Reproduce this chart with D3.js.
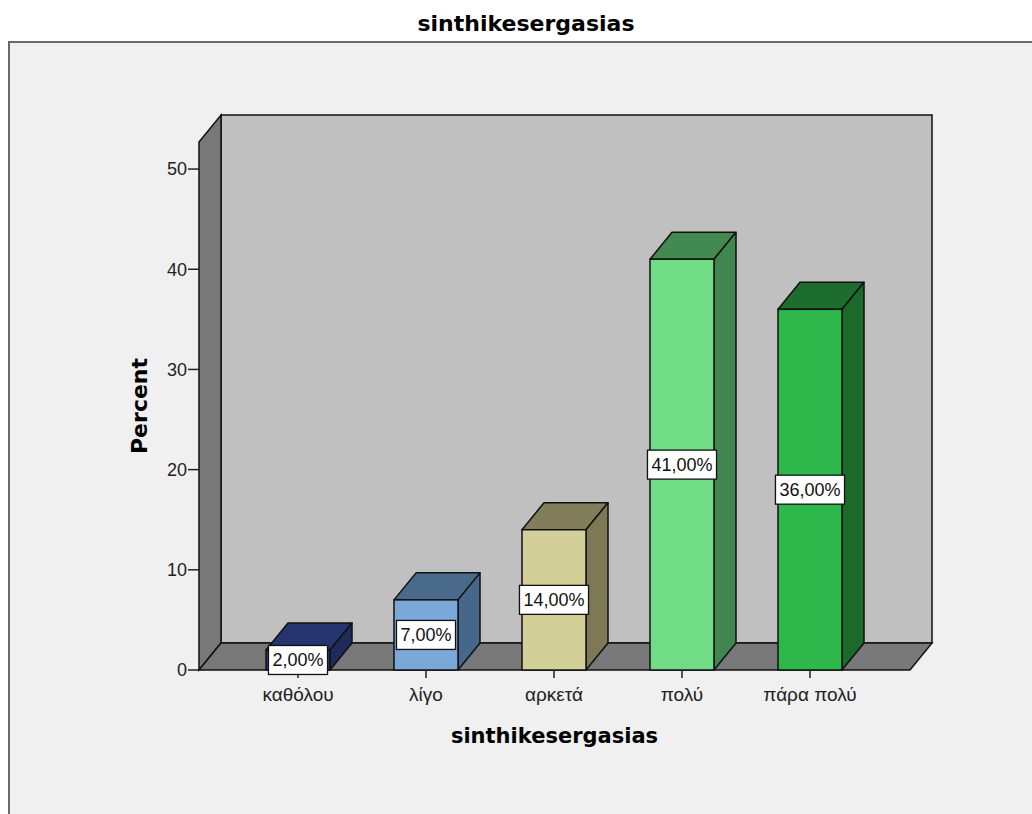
<!DOCTYPE html>
<html>
<head>
<meta charset="utf-8">
<script src="https://cdn.jsdelivr.net/npm/d3@7"></script>
<style>
  body { margin: 0; background: #ffffff; }
  svg { display: block; }
</style>
</head>
<body>
<svg id="chart" width="1032" height="814"></svg>
<script>
// Data
const categories = ["καθόλου", "λίγο", "αρκετά", "πολύ", "πάρα πολύ"];
const percents = [2, 7, 14, 41, 36];
const valueLabels = ["2,00%", "7,00%", "14,00%", "41,00%", "36,00%"];
const yTicks = [0, 10, 20, 30, 40, 50];
const frontColors = ["#2a3a7c", "#7aa8d8", "#d3cf98", "#70dc85", "#2eb84b"];
const topColors = ["#26356f", "#4a6a8c", "#827d5a", "#438a52", "#1d6e2e"];
const sideColors = ["#1f2b5e", "#45678a", "#7e7955", "#40874f", "#1b6a2c"];

const svg = d3.select("#chart");

// 3D depth offset applied to walls, floor and bars
const depthX = 22, depthY = -27;

// Scales
const y = d3.scaleLinear().domain([0, 52.7]).range([670, 142]);
const x = d3.scaleBand()
  .domain(categories)
  .range([234, 874])
  .paddingInner(0.5)
  .paddingOuter(0.25);

const floorLeft = 199, floorRight = 910;
const stroke = "#111";

// Chart frame
svg.append("rect")
  .attr("x", 9).attr("y", 42)
  .attr("width", 1060).attr("height", 800)
  .attr("fill", "#f0f0f0")
  .attr("stroke", "#6a6a6a").attr("stroke-width", 2);

// Title
svg.append("text")
  .attr("x", 526).attr("y", 31)
  .attr("text-anchor", "middle")
  .attr("font-family", "'DejaVu Sans', sans-serif")
  .attr("font-weight", "bold")
  .attr("font-size", 22)
  .attr("fill", "#000")
  .text("sinthikesergasias");

const poly = pts => "M" + pts.map(p => p.join(",")).join("L") + "Z";

const yTop = y.domain()[1];

// Back wall
svg.append("path")
  .attr("d", poly([
    [floorLeft + depthX, y(yTop) + depthY],
    [floorRight + depthX, y(yTop) + depthY],
    [floorRight + depthX, y(0) + depthY],
    [floorLeft + depthX, y(0) + depthY]
  ]))
  .attr("fill", "#c0c0c0").attr("stroke", stroke).attr("stroke-width", 1.5);

// Left wall
svg.append("path")
  .attr("d", poly([
    [floorLeft, y(yTop)],
    [floorLeft + depthX, y(yTop) + depthY],
    [floorLeft + depthX, y(0) + depthY],
    [floorLeft, y(0)]
  ]))
  .attr("fill", "#787878").attr("stroke", stroke).attr("stroke-width", 1.5);

// Floor
svg.append("path")
  .attr("d", poly([
    [floorLeft, y(0)],
    [floorLeft + depthX, y(0) + depthY],
    [floorRight + depthX, y(0) + depthY],
    [floorRight, y(0)]
  ]))
  .attr("fill", "#787878").attr("stroke", stroke).attr("stroke-width", 1.5);

// Y axis ticks and labels
const yAxis = svg.append("g");
yTicks.forEach(t => {
  yAxis.append("line")
    .attr("x1", floorLeft - 11).attr("x2", floorLeft)
    .attr("y1", y(t)).attr("y2", y(t))
    .attr("stroke", "#222").attr("stroke-width", 1.5);
  yAxis.append("text")
    .attr("x", floorLeft - 12).attr("y", y(t))
    .attr("dy", "0.35em")
    .attr("text-anchor", "end")
    .attr("font-family", "'Liberation Sans', Arial, sans-serif")
    .attr("font-size", 18)
    .attr("fill", "#222")
    .text(t);
});

// Bars
const bars = svg.append("g");
categories.forEach((c, i) => {
  const x0 = x(c), x1 = x(c) + x.bandwidth();
  const yt = y(percents[i]), yb = y(0);
  const g = bars.append("g");
  g.append("path")
    .attr("d", poly([[x0, yt], [x0 + depthX, yt + depthY], [x1 + depthX, yt + depthY], [x1, yt]]))
    .attr("fill", topColors[i]).attr("stroke", stroke).attr("stroke-width", 1.5).attr("stroke-linejoin", "round");
  g.append("path")
    .attr("d", poly([[x1, yt], [x1 + depthX, yt + depthY], [x1 + depthX, yb + depthY], [x1, yb]]))
    .attr("fill", sideColors[i]).attr("stroke", stroke).attr("stroke-width", 1.5).attr("stroke-linejoin", "round");
  g.append("rect")
    .attr("x", x0).attr("y", yt)
    .attr("width", x.bandwidth()).attr("height", yb - yt)
    .attr("fill", frontColors[i]).attr("stroke", stroke).attr("stroke-width", 1.5);
});

// X axis ticks and category labels
const xAxis = svg.append("g");
categories.forEach(c => {
  const cx = x(c) + x.bandwidth() / 2;
  xAxis.append("line")
    .attr("x1", cx).attr("x2", cx)
    .attr("y1", y(0)).attr("y2", y(0) + 8)
    .attr("stroke", "#222").attr("stroke-width", 1.5);
  xAxis.append("text")
    .attr("x", cx).attr("y", y(0) + 31)
    .attr("text-anchor", "middle")
    .attr("font-family", "'Liberation Sans', Arial, sans-serif")
    .attr("font-size", 19)
    .attr("fill", "#222")
    .text(c);
});

// Value labels in boxes at mid-height of each bar
const labels = svg.append("g");
categories.forEach((c, i) => {
  const cx = x(c) + x.bandwidth() / 2;
  const cy = (y(percents[i]) + y(0)) / 2;
  const lg = labels.append("g");
  const t = lg.append("text")
    .attr("x", cx).attr("y", cy)
    .attr("dy", "0.36em")
    .attr("text-anchor", "middle")
    .attr("font-family", "'Liberation Sans', Arial, sans-serif")
    .attr("font-size", 18)
    .attr("fill", "#111")
    .text(valueLabels[i]);
  const w = t.node().getComputedTextLength() + 8;
  lg.insert("rect", "text")
    .attr("x", cx - w / 2).attr("y", cy - 14.5)
    .attr("width", w).attr("height", 29)
    .attr("fill", "#fff").attr("stroke", "#111").attr("stroke-width", 1.3);
});

// Axis titles
svg.append("text")
  .attr("transform", `translate(147, ${(y(yTop) + y(0)) / 2}) rotate(-90)`)
  .attr("text-anchor", "middle")
  .attr("font-family", "'DejaVu Sans', sans-serif")
  .attr("font-weight", "bold")
  .attr("font-size", 22)
  .attr("fill", "#000")
  .text("Percent");

svg.append("text")
  .attr("x", (floorLeft + floorRight) / 2).attr("y", 743)
  .attr("text-anchor", "middle")
  .attr("font-family", "'DejaVu Sans', sans-serif")
  .attr("font-weight", "bold")
  .attr("font-size", 21)
  .attr("fill", "#000")
  .text("sinthikesergasias");
</script>
</body>
</html>
